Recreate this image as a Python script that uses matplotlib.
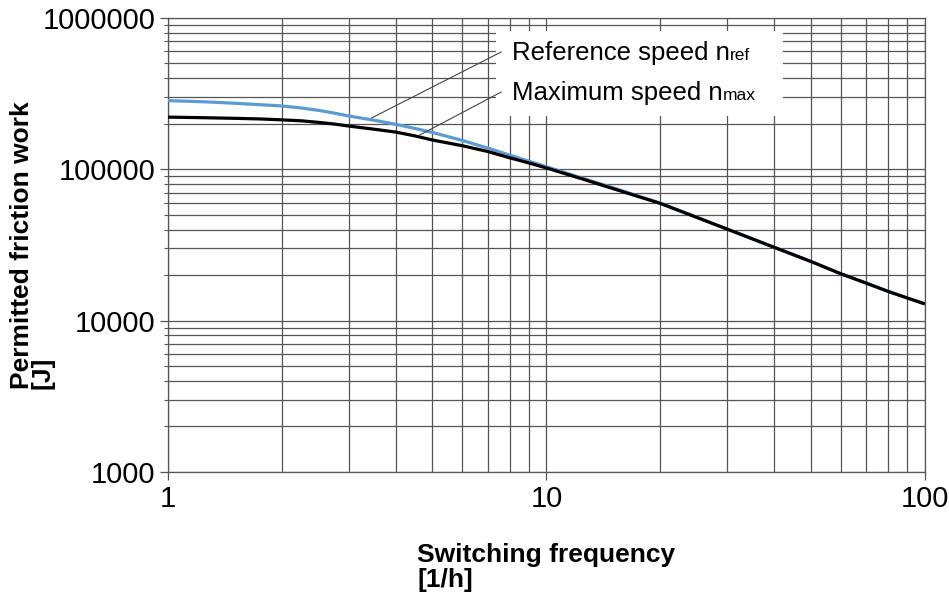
import numpy as np
import matplotlib
matplotlib.use("Agg")
import matplotlib.pyplot as plt
from matplotlib.patches import Rectangle
from matplotlib.ticker import FixedLocator, FixedFormatter, LogLocator, NullFormatter

plt.rcParams['font.family'] = ['Liberation Sans', 'DejaVu Sans']

# switching frequency [1/h]
freq = [1, 1.25, 1.5, 1.75, 2, 2.25, 2.5, 2.75, 3, 3.5, 4, 4.5, 5, 6, 7, 8, 9, 10,
        12.5, 15, 17.5, 20, 30, 40, 50, 60, 70, 80, 90, 100]
# permitted friction work [J] - reference speed n_ref
work_ref = [284000, 279000, 273000, 267000, 262000, 254000, 245000, 235000, 225000,
            211000, 198000, 186000, 175000, 155000, 138000, 124000, 113000, 104000,
            87000, 75500, 66500, 59800, 40300, 30500, 24600, 20400, 17700, 15600,
            14100, 12900]
# permitted friction work [J] - maximum speed n_max
work_max = [221000, 219000, 217000, 215000, 212000, 209000, 204000, 199000, 193000,
            184000, 176000, 166000, 156000, 143000, 131000, 119000, 110000, 102000,
            86000, 74500, 66000, 59500, 40300, 30500, 24600, 20400, 17700, 15600,
            14100, 12900]

ytick_vals = [1000, 10000, 100000, 1000000]
ytick_labels = ['1000', '10000', '100000', '1000000']
xtick_vals = [1, 10, 100]
xtick_labels = ['1', '10', '100']

grid_col = '#555555'

fig = plt.figure(figsize=(9.49, 5.96), dpi=100)
ax = fig.add_axes([0.177, 0.208, 0.7975, 0.762])

ax.set_xscale('log')
ax.set_yscale('log')
ax.set_xlim(1, 100)
ax.set_ylim(1000, 1000000)

ax.plot(freq, work_ref, color='#5b9bd5', lw=2.3, solid_capstyle='butt', zorder=3)
ax.plot(freq, work_max, color='black', lw=2.3, solid_capstyle='butt', zorder=4)

ax.xaxis.set_major_locator(FixedLocator(xtick_vals))
ax.xaxis.set_major_formatter(FixedFormatter(xtick_labels))
ax.yaxis.set_major_locator(FixedLocator(ytick_vals))
ax.yaxis.set_major_formatter(FixedFormatter(ytick_labels))
ax.xaxis.set_minor_locator(LogLocator(base=10, subs=np.arange(2, 10)))
ax.yaxis.set_minor_locator(LogLocator(base=10, subs=np.arange(2, 10)))
ax.xaxis.set_minor_formatter(NullFormatter())
ax.yaxis.set_minor_formatter(NullFormatter())

ax.grid(True, which='both', color=grid_col, lw=0.9)
for s in ax.spines.values():
    s.set_color(grid_col)
    s.set_linewidth(0.9)

ax.tick_params(axis='both', which='major', labelsize=21, color=grid_col, length=6, width=0.9, pad=3)
ax.tick_params(axis='x', which='minor', length=0)
ax.tick_params(axis='y', which='minor', length=3, width=0.8, color=grid_col)

ax.set_xlabel('Switching frequency\n[1/h]', fontsize=19, fontweight='bold',
              multialignment='left', labelpad=22, linespacing=1.05)
ax.set_ylabel('Permitted friction work\n[J]', fontsize=19, fontweight='bold',
              multialignment='left', linespacing=0.8)
ax.yaxis.set_label_coords(-0.15, 0.5)

# white label box
ax.add_patch(Rectangle((0.433, 0.785), 0.38, 0.187, transform=ax.transAxes,
                       facecolor='white', edgecolor='none', zorder=5))

labels = [('Reference speed n', 'ref', 0.907, (7.6, 596000), (3.45, 218000)),
          ('Maximum speed n', 'max', 0.819, (7.6, 324000), (4.62, 168000))]
for main, sub, yb, start, end in labels:
    t = ax.text(0.455, yb, main, transform=ax.transAxes, fontsize=18.5,
                va='baseline', ha='left', zorder=6)
    ax.annotate(sub, xy=(1.0, yb), xycoords=(t, ax.transAxes), fontsize=12.5,
                va='baseline', ha='left', zorder=6)
    ax.annotate('', xy=end, xytext=start,
                arrowprops=dict(arrowstyle='-', color='#444444', lw=0.8,
                                shrinkA=0, shrinkB=0), zorder=6)

fig.savefig('out.png', dpi=100)
